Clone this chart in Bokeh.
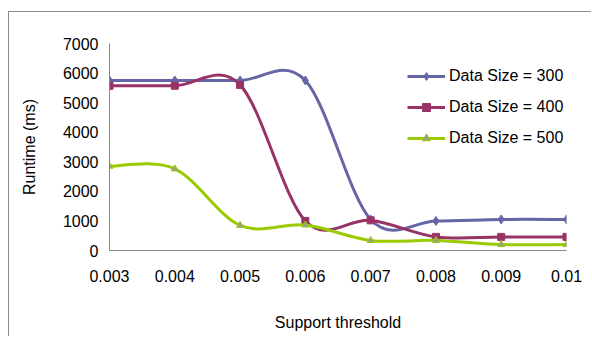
import numpy as np
from bokeh.plotting import figure
from bokeh.models import Range1d, FixedTicker, Legend, LegendItem, ColumnDataSource
from bokeh.embed import file_html
from bokeh.resources import INLINE

# ---- data ----
support = [0.003, 0.004, 0.005, 0.006, 0.007, 0.008, 0.009, 0.01]
x_tick_labels = ["0.003", "0.004", "0.005", "0.006", "0.007", "0.008", "0.009", "0.01"]
y_ticks = [0, 1000, 2000, 3000, 4000, 5000, 6000, 7000]
size300 = [5750, 5750, 5750, 5750, 1050, 1000, 1050, 1050]
size400 = [5570, 5570, 5600, 1000, 1020, 460, 460, 460]
size500 = [2850, 2760, 850, 860, 340, 340, 200, 200]
series_names = ["Data Size = 300", "Data Size = 400", "Data Size = 500"]

colors = ["#6666A6", "#993366", "#99CC00"]
markers = ["diamond", "square", "triangle"]
marker_sizes = [9, 7, 7]
marker_fills = ["#6666A6", "#993366", "#999999"]

FONT = "Liberation Sans"


def smooth_source(xs, ys):
    """Bezier segments (Catmull-Rom style, like a spreadsheet's smoothed line)."""
    x = np.asarray(xs, float)
    y = np.asarray(ys, float)
    n = len(x)
    xp = np.concatenate([[x[0]], x, [x[-1]]])
    yp = np.concatenate([[y[0]], y, [y[-1]]])
    cx0 = xp[1:n] + (xp[2:n + 1] - xp[0:n - 1]) / 6
    cy0 = yp[1:n] + (yp[2:n + 1] - yp[0:n - 1]) / 6
    cx1 = xp[2:n + 1] - (xp[3:n + 2] - xp[1:n]) / 6
    cy1 = yp[2:n + 1] - (yp[3:n + 2] - yp[1:n]) / 6
    return ColumnDataSource(dict(x0=x[:-1], y0=y[:-1], x1=x[1:], y1=y[1:],
                                 cx0=cx0, cy0=cy0, cx1=cx1, cy1=cy1))


p = figure(width=583, height=325, output_backend="svg", toolbar_location=None,
           x_range=Range1d(support[0], support[-1]), y_range=Range1d(y_ticks[0], y_ticks[-1]),
           min_border_left=100, min_border_right=26, min_border_top=31, min_border_bottom=87,
           margin=(11, 0, 0, 8))
p.styles = {"border-left": "1px solid #8c8c8c", "border-top": "1px solid #8c8c8c"}
p.outline_line_color = None
p.grid.visible = False
p.background_fill_color = "white"
p.border_fill_color = "white"

items = []
for ys, name, c, m, ms, mf in zip([size300, size400, size500], series_names, colors,
                                  markers, marker_sizes, marker_fills):
    src = smooth_source(support, ys)
    b = p.bezier(x0="x0", y0="y0", x1="x1", y1="y1", cx0="cx0", cy0="cy0",
                 cx1="cx1", cy1="cy1", source=src, line_color=c, line_width=3)
    s = p.scatter(support, ys, marker=m, size=ms, fill_color=mf, line_color=c, line_width=1)
    items.append(LegendItem(label=name, renderers=[b, s]))

legend = Legend(items=items, location=(298, 102), padding=0, margin=0,
                glyph_width=38, glyph_height=20, label_height=20, spacing=11,
                label_standoff=4, border_line_color=None, background_fill_alpha=0,
                label_text_font=FONT, label_text_font_size="16px", label_text_color="black")
p.add_layout(legend)

for ax in (p.xaxis[0], p.yaxis[0]):
    ax.axis_line_color = "#868686"
    ax.major_tick_line_color = None
    ax.minor_tick_line_color = None
    ax.major_tick_out = 0
    ax.major_tick_in = 0
    ax.major_label_text_font = FONT
    ax.major_label_text_font_size = "16px"
    ax.major_label_text_color = "black"
    ax.axis_label_text_font = FONT
    ax.axis_label_text_font_size = "16px"
    ax.axis_label_text_font_style = "normal"
    ax.axis_label_text_color = "black"

p.xaxis.ticker = FixedTicker(ticks=support)
p.xaxis.major_label_overrides = {t: l for t, l in zip(support, x_tick_labels)}
p.xaxis.major_label_standoff = 19
p.xaxis.axis_label = "Support threshold"
p.xaxis.axis_label_standoff = 29

p.yaxis.ticker = FixedTicker(ticks=y_ticks)
p.yaxis.major_label_standoff = 11
p.yaxis.axis_label = "Runtime (ms)"
p.yaxis.axis_label_standoff = 22

open("out.html", "w").write(file_html(p, INLINE))
